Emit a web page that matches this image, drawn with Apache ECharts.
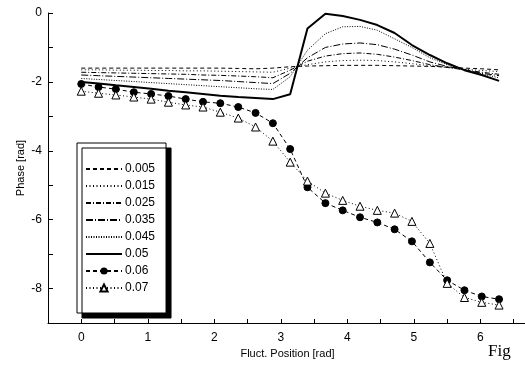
<!DOCTYPE html>
<html>
<head>
<meta charset="utf-8">
<script src="https://cdn.jsdelivr.net/npm/echarts@6/dist/echarts.min.js"></script>
<style>
  html, body { margin: 0; padding: 0; background: #fff; overflow: hidden; }
  #chart { width: 560px; height: 370px; }
</style>
</head>
<body>
<div id="chart"></div>
<script>
// fluctuation positions [rad]
const positions = [0, 0.26, 0.52, 0.79, 1.05, 1.31, 1.57, 1.83, 2.09, 2.36, 2.62, 2.88, 3.14,
  3.40, 3.67, 3.93, 4.19, 4.45, 4.71, 4.97, 5.24, 5.50, 5.76, 6.02, 6.28];

const names = ['0.005', '0.015', '0.025', '0.035', '0.045', '0.05', '0.06', '0.07'];

const phase005 = [-1.6, -1.6, -1.6, -1.6, -1.6, -1.6, -1.6, -1.6, -1.6, -1.61, -1.62, -1.6, -1.56,
  -1.54, -1.53, -1.52, -1.52, -1.52, -1.53, -1.54, -1.55, -1.57, -1.6, -1.62, -1.65];
const phase015 = [-1.65, -1.65, -1.66, -1.66, -1.67, -1.67, -1.68, -1.68, -1.69, -1.7, -1.71, -1.72, -1.6,
  -1.5, -1.42, -1.38, -1.37, -1.38, -1.42, -1.47, -1.53, -1.58, -1.63, -1.67, -1.7];
const phase025 = [-1.72, -1.73, -1.74, -1.75, -1.76, -1.77, -1.78, -1.8, -1.81, -1.83, -1.85, -1.88, -1.66,
  -1.4, -1.25, -1.18, -1.16, -1.2, -1.28, -1.38, -1.5, -1.58, -1.65, -1.72, -1.78];
const phase035 = [-1.8, -1.82, -1.84, -1.86, -1.88, -1.9, -1.92, -1.94, -1.96, -1.99, -2.02, -2.05, -1.75,
  -1.3, -1.0, -0.9, -0.87, -0.92, -1.05, -1.22, -1.42, -1.55, -1.65, -1.75, -1.82];
const phase045 = [-1.9, -1.93, -1.96, -1.99, -2.02, -2.05, -2.08, -2.11, -2.14, -2.17, -2.2, -2.22, -1.85,
  -1.08, -0.6, -0.4, -0.39, -0.5, -0.75, -1.0, -1.3, -1.5, -1.65, -1.77, -1.88];
const phase05 = [-2.0, -2.05, -2.1, -2.15, -2.2, -2.26, -2.3, -2.35, -2.4, -2.44, -2.47, -2.5, -2.36,
  -0.45, -0.02, -0.09, -0.2, -0.35, -0.58, -0.93, -1.22, -1.46, -1.66, -1.8, -1.97];
const phase06 = [-2.06, -2.15, -2.21, -2.3, -2.35, -2.41, -2.5, -2.58, -2.62, -2.73, -2.9, -3.2, -3.95,
  -5.06, -5.52, -5.73, -5.93, -6.08, -6.28, -6.63, -7.24, -7.76, -8.05, -8.23, -8.31];
const phase07 = [-2.27, -2.33, -2.38, -2.44, -2.5, -2.59, -2.67, -2.73, -2.88, -3.05, -3.31, -3.72, -4.33,
  -4.88, -5.23, -5.44, -5.61, -5.73, -5.81, -6.05, -6.69, -7.85, -8.26, -8.4, -8.48];

const yTicks = [0, -2, -4, -6, -8];
const xTicks = [0, 1, 2, 3, 4, 5, 6];

const font = 'Liberation Sans, Arial, sans-serif';
const pair = (arr) => positions.map((x, i) => [x, arr[i]]);

// plain lines: hide the legend marker by making it transparent
const lineSeries = (name, values, dash, width) => ({
  name,
  type: 'line',
  data: pair(values),
  symbol: 'none',
  lineStyle: { color: '#000', width: width || 1, type: dash },
  itemStyle: { color: 'rgba(0,0,0,0)', borderWidth: 0, opacity: 0 },
});

const series = [
  lineSeries(names[0], phase005, [4, 3]),
  lineSeries(names[1], phase015, [1, 2.5]),
  lineSeries(names[2], phase025, [5, 2, 1, 2]),
  lineSeries(names[3], phase035, [7, 2, 1, 2]),
  lineSeries(names[4], phase045, [1, 1.5]),
  lineSeries(names[5], phase05, 'solid', 2),
  {
    name: names[6],
    type: 'line',
    data: pair(phase06),
    symbol: 'circle',
    symbolSize: 7,
    lineStyle: { color: '#000', width: 1, type: [4, 3] },
    itemStyle: { color: '#000', borderColor: '#000' },
  },
  {
    name: names[7],
    type: 'line',
    data: pair(phase07),
    symbol: 'triangle',
    symbolSize: 8,
    lineStyle: { color: '#000', width: 1, type: [1, 2.5] },
    itemStyle: { color: '#fff', borderColor: '#000', borderWidth: 1 },
  },
];

const option = {
  animation: false,
  backgroundColor: '#fff',
  grid: { left: 48, top: 13, width: 479, height: 310 },
  legend: {
    orient: 'vertical',
    left: 77,
    top: 143,
    data: names,
    itemWidth: 36,
    itemHeight: 9,
    itemGap: 5,
    padding: [20, 11, 19, 8],
    backgroundColor: '#fff',
    borderColor: '#000',
    borderWidth: 1,
    borderRadius: 0,
    shadowColor: '#000',
    shadowBlur: 0,
    shadowOffsetX: 5,
    shadowOffsetY: 5,
    textStyle: { color: '#000', fontFamily: font, fontSize: 12, padding: [0, 0, 0, -2] },
    inactiveColor: '#000',
  },
  xAxis: {
    type: 'value',
    min: -0.5,
    max: 6.7,
    interval: 0.5,
    name: 'Fluct. Position [rad]',
    nameLocation: 'middle',
    nameGap: 24,
    nameTextStyle: { color: '#000', fontFamily: font, fontSize: 11 },
    axisLine: { onZero: false, lineStyle: { color: '#000', width: 1 } },
    axisTick: { inside: true, length: 4, lineStyle: { color: '#000' } },
    axisLabel: {
      color: '#000',
      fontFamily: font,
      fontSize: 12,
      margin: 9,
      showMinLabel: false,
      showMaxLabel: false,
      formatter: (v) => (xTicks.indexOf(v) >= 0 ? String(v) : ''),
    },
    splitLine: { show: false },
  },
  yAxis: {
    type: 'value',
    min: -9,
    max: 0,
    interval: 1,
    name: 'Phase [rad]',
    nameLocation: 'middle',
    nameGap: 22,
    nameMoveOverlap: false,
    nameTextStyle: { color: '#000', fontFamily: font, fontSize: 11 },
    axisLine: { show: true, onZero: false, lineStyle: { color: '#000', width: 1 } },
    axisTick: { inside: true, length: 5, lineStyle: { color: '#000' } },
    axisLabel: {
      color: '#000',
      fontFamily: font,
      fontSize: 12,
      margin: 6,
      formatter: (v) => (yTicks.indexOf(v) >= 0 ? String(v) : ''),
    },
    splitLine: { show: false },
  },
  graphic: [
    {
      type: 'text',
      left: 488,
      top: 343,
      style: { text: 'Fig', fill: '#000', font: '17px "Liberation Serif", serif' },
    },
  ],
  series,
};

const myChart = echarts.init(document.getElementById('chart'));
myChart.setOption(option);
</script>
</body>
</html>
